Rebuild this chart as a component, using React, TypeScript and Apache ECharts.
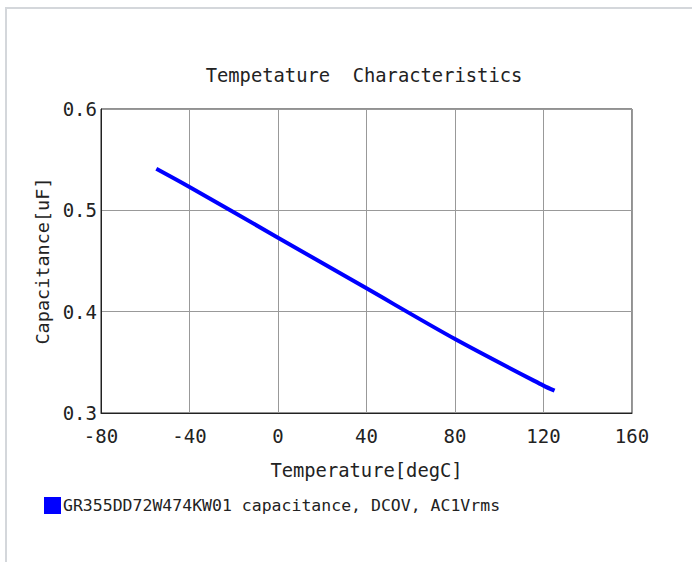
import React, { useEffect, useRef } from "react";
import * as echarts from "echarts";

const chartTitle = "Tempetature  Characteristics";
const xAxisName = "Temperature[degC]";
const yAxisName = "Capacitance[uF]";
const seriesName = "GR355DD72W474KW01 capacitance, DCOV, AC1Vrms";
const temperatures = [-55, -40, 0, 40, 80, 120, 125];
const capacitances = [0.541, 0.523, 0.473, 0.423, 0.373, 0.327, 0.322];

const FONT = "'DejaVu Sans Mono', 'Liberation Mono', monospace";

export default function App() {
  const ref = useRef<HTMLDivElement>(null);
  useEffect(() => {
    document.body.style.margin = "0";
    const chart = echarts.init(ref.current!, null, { renderer: "svg" });
    chart.setOption({
      animation: false,
      title: {
        text: chartTitle,
        left: 364,
        textAlign: "center",
        top: 66,
        padding: 0,
        textStyle: { fontFamily: FONT, fontSize: 18.8, fontWeight: "normal", color: "#222" },
      },
      legend: {
        left: 44,
        top: 497,
        padding: 0,
        itemWidth: 17,
        itemHeight: 17,
        icon: "rect",
        data: [{ name: seriesName, itemStyle: { color: "#0000ff" } }],
        textStyle: { fontFamily: FONT, fontSize: 16.5, color: "#222", padding: [0, 0, 0, -3] },
      },
      grid: {
        left: 101,
        top: 109,
        right: 60,
        bottom: 149,
        show: true,
        borderColor: "#222",
        borderWidth: 1,
      },
      xAxis: {
        type: "value",
        min: -80,
        max: 160,
        interval: 40,
        name: xAxisName,
        nameLocation: "middle",
        nameGap: 48,
        nameTextStyle: { fontFamily: FONT, fontSize: 18.8, color: "#222" },
        axisLine: { show: true, onZero: false, lineStyle: { color: "#222", width: 1 } },
        axisTick: { show: false },
        axisLabel: { fontFamily: FONT, fontSize: 19, color: "#222", margin: 13 },
        splitLine: { show: true, lineStyle: { color: "#999", width: 1 } },
      },
      yAxis: {
        type: "value",
        min: 0.3,
        max: 0.6,
        interval: 0.1,
        name: yAxisName,
        nameLocation: "middle",
        nameGap: 48,
        nameRotate: 90,
        nameTextStyle: { fontFamily: FONT, fontSize: 18.5, color: "#222" },
        axisLine: { show: true, onZero: false, lineStyle: { color: "#222", width: 1 } },
        axisTick: { show: false },
        axisLabel: {
          fontFamily: FONT,
          fontSize: 19,
          color: "#222",
          margin: 4,
          formatter: (v: number) => v.toFixed(1),
        },
        splitLine: { show: true, lineStyle: { color: "#999", width: 1 } },
      },
      series: [
        {
          name: seriesName,
          type: "line",
          data: temperatures.map((t, i) => [t, capacitances[i]]),
          showSymbol: false,
          symbol: "none",
          smooth: 0.3,
          itemStyle: { color: "#0000ff" },
          lineStyle: { color: "#0000ff", width: 4 },
        },
      ],
    });
    return () => chart.dispose();
  }, []);
  return (
    <div style={{ position: "fixed", left: 0, top: 0, width: 692, height: 562, background: "#fff", overflow: "hidden" }}>
      <div
        style={{
          position: "absolute",
          left: 5,
          top: 7,
          width: 720,
          height: 600,
          borderLeft: "2px solid #d4d7db",
          borderTop: "2px solid #d4d7db",
        }}
      />
      <div ref={ref} style={{ position: "absolute", left: 0, top: 0, width: 692, height: 562 }} />
    </div>
  );
}
